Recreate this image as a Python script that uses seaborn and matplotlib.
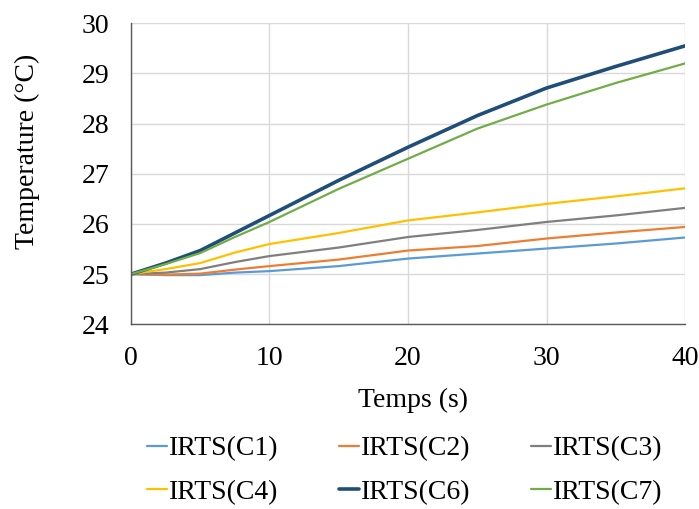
import matplotlib
matplotlib.use("Agg")
import matplotlib.pyplot as plt
import seaborn as sns
import pandas as pd

# Data
time_s = [0, 2.5, 5, 7.5, 10, 15, 20, 25, 30, 35, 40]
c1 = [25.00, 24.98, 24.98, 25.03, 25.06, 25.16, 25.31, 25.41, 25.51, 25.61, 25.73]
c2 = [25.00, 24.99, 25.01, 25.09, 25.16, 25.29, 25.47, 25.56, 25.71, 25.83, 25.94]
c3 = [25.00, 25.03, 25.10, 25.24, 25.36, 25.53, 25.74, 25.88, 26.04, 26.17, 26.32]
c4 = [25.00, 25.10, 25.22, 25.43, 25.60, 25.82, 26.07, 26.23, 26.40, 26.55, 26.71]
c6 = [25.00, 25.22, 25.47, 25.82, 26.17, 26.87, 27.53, 28.16, 28.71, 29.14, 29.55]
c7 = [25.00, 25.20, 25.42, 25.74, 26.04, 26.70, 27.30, 27.90, 28.38, 28.81, 29.20]

series_names = ["IRTS(C1)", "IRTS(C2)", "IRTS(C3)", "IRTS(C4)", "IRTS(C6)", "IRTS(C7)"]
series_values = [c1, c2, c3, c4, c6, c7]
colors = ["#5B9BD5", "#ED7D31", "#7F7F7F", "#FFC000", "#1F4E79", "#70AD47"]
widths = [1.6, 1.6, 1.6, 1.6, 2.6, 1.6]

x_ticks = [0, 10, 20, 30, 40]
y_ticks = [24, 25, 26, 27, 28, 29, 30]

sns.set_theme(style="whitegrid")
plt.rcParams["font.family"] = ["Liberation Serif", "DejaVu Serif"]
plt.rcParams["text.color"] = "black"
plt.rcParams["axes.labelcolor"] = "black"

fig = plt.figure(figsize=(6.99, 5.09), dpi=100)
ax = fig.add_axes([0.1874, 0.3629, 0.7926, 0.5913])

for name, vals, col, lw in zip(series_names, series_values, colors, widths):
    df = pd.DataFrame({"t": time_s, "T": vals})
    sns.lineplot(data=df, x="t", y="T", ax=ax, color=col, linewidth=lw, label=name)

ax.set_xlim(0, 40)
ax.set_ylim(24, 30)
ax.set_xticks(x_ticks)
ax.set_yticks(y_ticks)
ax.grid(True, color="#D9D9D9", linewidth=1.0)
for s in ["top", "right"]:
    ax.spines[s].set_visible(False)
for s in ["left", "bottom"]:
    ax.spines[s].set_color("#595959")
    ax.spines[s].set_linewidth(1.0)
ax.tick_params(axis="both", which="major", labelsize=20, labelcolor="#000000",
               color="#595959", length=6.5, width=1.0, direction="out")
ax.tick_params(axis="y", pad=9)
ax.tick_params(axis="x", pad=9)
ax.set_xlabel("Temps (s)", fontsize=20, color="black")
ax.set_ylabel("Temperature (°C)", fontsize=20, color="black")
ax.xaxis.set_label_coords(0.509, -0.212)
ax.yaxis.set_label_coords(-0.165, 0.576)

handles, labels = ax.get_legend_handles_labels()
ax.get_legend().remove()
order = [0, 3, 1, 4, 2, 5]
leg = fig.legend([handles[i] for i in order], [labels[i] for i in order],
                 loc="center", bbox_to_anchor=(0.579, 0.0756), ncol=3, frameon=False,
                 fontsize=20, handlelength=0.72, handletextpad=0.1, columnspacing=2.15,
                 labelspacing=0.65)
for t in leg.get_texts():
    t.set_color("black")

fig.savefig("out.png", dpi=100)
